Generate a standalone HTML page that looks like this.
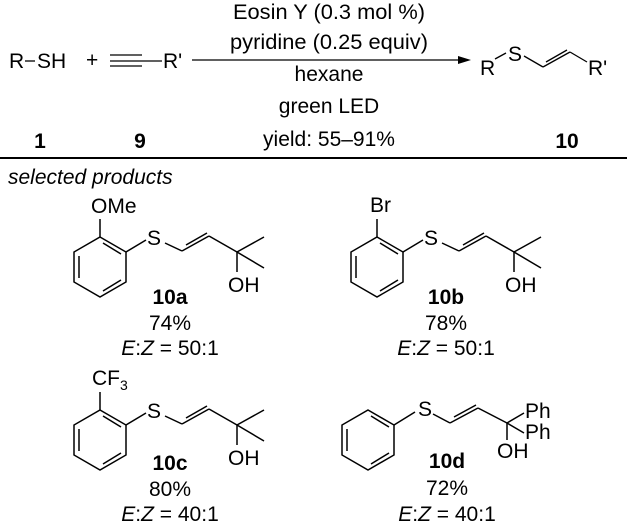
<!DOCTYPE html>
<html><head><style>
html,body{margin:0;padding:0;background:#fff;}
svg{display:block;}
text{font-family:"Liberation Sans",sans-serif;font-size:21px;fill:#000;}
.b{font-weight:bold;}
.i{font-style:italic;}
</style></head><body>
<svg width="627" height="527" viewBox="0 0 627 527" xmlns="http://www.w3.org/2000/svg">
<defs>
<g id="ring" fill="none" stroke="#000" stroke-width="1.5">
<polygon points="0,-30 26,-15 26,15 0,30 -26,15 -26,-15"/>
<line x1="-21" y1="-11" x2="-21" y2="11"/>
<line x1="3" y1="-24" x2="21" y2="-13"/>
<line x1="3" y1="24" x2="21" y2="13"/>
</g>
<g id="molA">
<use href="#ring" x="100" y="267"/>
<g fill="none" stroke="#000" stroke-width="1.5">
<line x1="100" y1="237" x2="100" y2="219"/>
<line x1="126" y1="252" x2="146" y2="240"/>
<line x1="165" y1="243" x2="182" y2="251"/>
<line x1="182" y1="251" x2="209" y2="236"/>
<line x1="186" y1="245" x2="207" y2="233"/>
<line x1="209" y1="236" x2="237" y2="252"/>
<line x1="237" y1="252" x2="264" y2="237"/>
<line x1="237" y1="252" x2="264" y2="268"/>
<line x1="237" y1="252" x2="237" y2="272"/>
</g>
<text x="147" y="245">S</text>
<text x="228" y="292">OH</text>
</g>
</defs>
<!-- header -->
<text x="329" y="19" text-anchor="middle" textLength="192" lengthAdjust="spacingAndGlyphs">Eosin Y (0.3 mol %)</text>
<text x="329" y="49" text-anchor="middle" textLength="198" lengthAdjust="spacingAndGlyphs">pyridine (0.25 equiv)</text>
<text x="329" y="81" text-anchor="middle">hexane</text>
<text x="329" y="113" text-anchor="middle">green LED</text>
<text x="329" y="146" text-anchor="middle">yield: 55–91%</text>
<line x1="192" y1="60" x2="462" y2="60" stroke="#000" stroke-width="1.3"/>
<polygon points="471,60 458,56 458,64" fill="#000"/>
<text x="9" y="68">R</text>
<line x1="25" y1="61" x2="35" y2="61" stroke="#000" stroke-width="1.3"/>
<text x="37" y="68">SH</text>
<text x="86" y="67">+</text>
<g stroke="#000" stroke-width="1.3">
<line x1="110" y1="55" x2="142" y2="55"/><line x1="110" y1="61" x2="142" y2="61"/><line x1="110" y1="66" x2="142" y2="66"/>
<line x1="142" y1="61" x2="162" y2="61"/>
</g>
<text x="163" y="68">R'</text>
<text x="480" y="75">R</text>
<text x="508" y="61">S</text>
<g fill="none" stroke="#000" stroke-width="1.3">
<line x1="495" y1="59" x2="506" y2="53"/>
<line x1="524" y1="56" x2="543" y2="67"/>
<line x1="543" y1="67" x2="570" y2="52"/>
<line x1="546" y1="62" x2="567" y2="50"/>
<line x1="570" y1="52" x2="587" y2="62"/>
</g>
<text x="588" y="75">R'</text>
<text x="40" y="148" class="b" text-anchor="middle">1</text>
<text x="140" y="148" class="b" text-anchor="middle">9</text>
<text x="567" y="148" class="b" text-anchor="middle">10</text>
<line x1="0" y1="158" x2="627" y2="158" stroke="#000" stroke-width="2"/>
<text x="8" y="184" class="i">selected products</text>

<!-- 10a -->
<use href="#molA"/>
<text x="91" y="213">OMe</text>
<text x="170" y="304" class="b" text-anchor="middle">10a</text>
<text x="170" y="330" text-anchor="middle">74%</text>
<text x="170" y="355" text-anchor="middle"><tspan class="i">E</tspan>:<tspan class="i">Z</tspan> = 50:1</text>

<!-- 10b -->
<use href="#molA" x="277"/>
<text x="370" y="212">Br</text>
<text x="446" y="304" class="b" text-anchor="middle">10b</text>
<text x="446" y="330" text-anchor="middle">78%</text>
<text x="446" y="355" text-anchor="middle"><tspan class="i">E</tspan>:<tspan class="i">Z</tspan> = 50:1</text>

<!-- 10c -->
<use href="#molA" y="173"/>
<text x="92" y="385">CF<tspan font-size="14" dy="5">3</tspan></text>
<text x="170" y="470" class="b" text-anchor="middle">10c</text>
<text x="170" y="496" text-anchor="middle">80%</text>
<text x="170" y="521" text-anchor="middle"><tspan class="i">E</tspan>:<tspan class="i">Z</tspan> = 40:1</text>

<!-- 10d -->
<use href="#ring" x="368" y="440"/>
<g fill="none" stroke="#000" stroke-width="1.5">
<line x1="394" y1="425" x2="415" y2="412"/>
<line x1="433" y1="414" x2="450" y2="423"/>
<line x1="450" y1="423" x2="478" y2="408"/>
<line x1="454" y1="417" x2="476" y2="405"/>
<line x1="478" y1="408" x2="507" y2="423"/>
<line x1="507" y1="423" x2="524" y2="413"/>
<line x1="507" y1="423" x2="524" y2="433"/>
<line x1="507" y1="423" x2="507" y2="440"/>
</g>
<text x="418" y="416">S</text>
<text x="525" y="418">Ph</text>
<text x="525" y="439">Ph</text>
<text x="497" y="458">OH</text>
<text x="447" y="468" class="b" text-anchor="middle">10d</text>
<text x="447" y="495" text-anchor="middle">72%</text>
<text x="447" y="521" text-anchor="middle"><tspan class="i">E</tspan>:<tspan class="i">Z</tspan> = 40:1</text>
</svg>
</body></html>
